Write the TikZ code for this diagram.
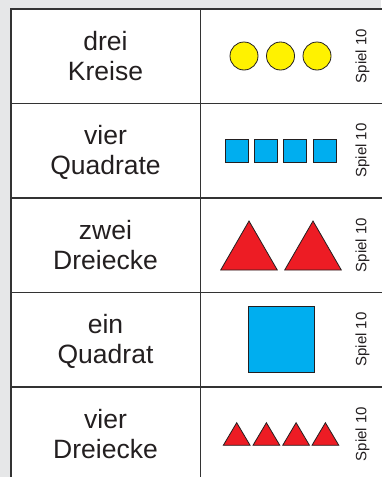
\documentclass[tikz,border=0pt]{standalone}
\usepackage{fontspec}
\setmainfont{Liberation Sans}
\definecolor{bg}{HTML}{E6E7E8}
\definecolor{ink}{HTML}{231F20}
\definecolor{rule}{HTML}{333333}
\definecolor{yel}{HTML}{FFF200}
\definecolor{cya}{HTML}{00AEEF}
\definecolor{rd}{HTML}{ED1C24}
\tikzset{
  lbl/.style={anchor=base, inner sep=0pt, text=ink, font=\fontsize{26.5}{30}\selectfont},
  spiel/.style={rotate=90, inner sep=0pt, text=ink, font=\fontsize{15}{18}\selectfont},
  gridline/.style={draw=rule, line width=1.1pt},
  shp/.style={draw=ink, line width=0.8pt},
}
\begin{document}
\begin{tikzpicture}[x=1pt,y=-1pt]
\useasboundingbox (0,0) rectangle (381,477);
\fill[bg] (0,0) rectangle (381,477);
\fill[white] (11,9) rectangle (385,485);
% grid
\draw[gridline] (385,9) -- (11,9) -- (11,485);
\draw[gridline] (200.7,9) -- (200.7,485);
\foreach \y in {103.3,198,292.7,387}{
  \draw[gridline] (11,\y) -- (385,\y);
}
% labels
\node[lbl] (t1a) at (105.5,50) {drei};
\node[lbl] (t1b) at (105.5,80) {Kreise};
\node[lbl] (t2a) at (105.5,144.5) {vier};
\node[lbl] (t2b) at (105.5,174.5) {Quadrate};
\node[lbl] (t3a) at (105.5,239) {zwei};
\node[lbl] (t3b) at (105.5,269) {Dreiecke};
\node[lbl] (t4a) at (105.5,333.5) {ein};
\node[lbl] (t4b) at (105.5,363.5) {Quadrat};
\node[lbl] (t5a) at (105.5,428) {vier};
\node[lbl] (t5b) at (105.5,458) {Dreiecke};
% Spiel 10
\node[spiel] (s1) at (362.5,56) {Spiel 10};
\node[spiel] (s2) at (362.5,150.5) {Spiel 10};
\node[spiel] (s3) at (362.5,245) {Spiel 10};
\node[spiel] (s4) at (362.5,339.5) {Spiel 10};
\node[spiel] (s5) at (362.5,434) {Spiel 10};
% row 1: circles
\foreach \x in {244,280.5,317}{
  \draw[shp, fill=yel] (\x,56) circle (14);
}
% row 2: squares
\foreach \x in {225.7,254.5,283.8,313.2}{
  \draw[shp, fill=cya] (\x,139.5) rectangle ++(23,23);
}
% row 3: triangles
\foreach \x in {220.7,284.7}{
  \draw[shp, fill=rd, line join=miter] (\x,270) -- ++(28.3,-49) -- ++(28.3,49) -- cycle;
}
% row 4: big square
\draw[shp, fill=cya] (248.3,306.7) rectangle (314,372.7);
% row 5: small triangles
\foreach \x in {223.3,253,282.7,312}{
  \draw[shp, fill=rd] (\x,445.3) -- ++(13.4,-22.6) -- ++(13.4,22.6) -- cycle;
}
\end{tikzpicture}
\end{document}
